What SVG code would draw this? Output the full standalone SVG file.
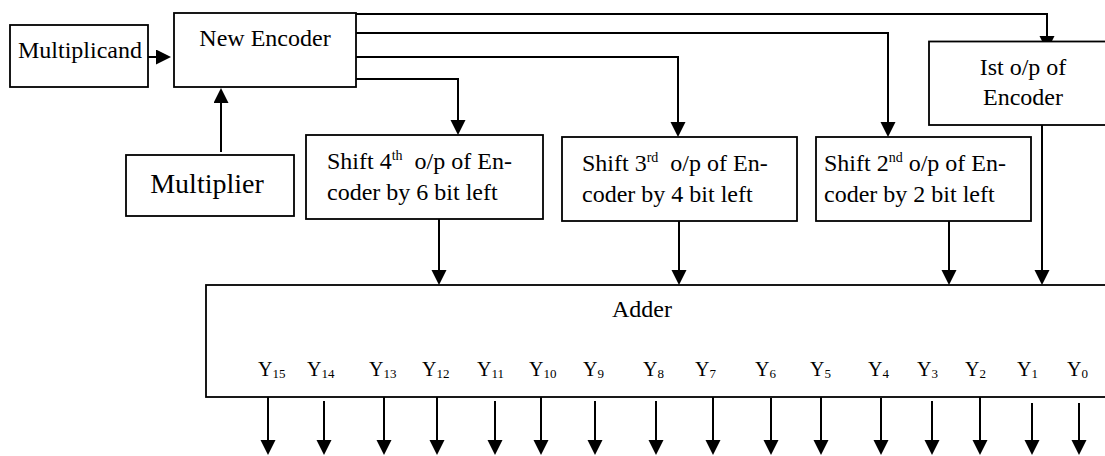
<svg xmlns="http://www.w3.org/2000/svg" width="1105" height="456" viewBox="0 0 1105 456" font-family="'Liberation Serif', 'Times New Roman', Times, 'DejaVu Serif', serif">
  <style>
    .box { fill: #ffffff; stroke: #000000; stroke-width: 1.8; }
    .arrow { fill: none; stroke: #000000; stroke-width: 2; marker-end: url(#head); }
    text { font-family: 'Liberation Serif', 'Times New Roman', Times, 'DejaVu Serif', serif; fill: #000000; }
    .lbl { font-size: 24px; }
    .big { font-size: 28px; }
    .sup { font-size: 14px; }
    .y { font-size: 20px; }
    .sub { font-size: 13px; }
  </style>
  <defs>
    <marker id="head" markerUnits="userSpaceOnUse" markerWidth="16" markerHeight="16" refX="13" refY="7.5" orient="auto">
      <path d="M0,0 L15,7.5 L0,15 z" fill="#000000"/>
    </marker>
  </defs>

  <rect width="1105" height="456" fill="#ffffff"/>

  <!-- connectors -->
  <g id="connectors">
    <path class="arrow" d="M148,57 L169,57"/>
    <path class="arrow" d="M221,152 L221,90"/>
    <path class="arrow" d="M356,14 L1047,14 L1047,49"/>
    <path class="arrow" d="M356,33 L888,33 L888,135"/>
    <path class="arrow" d="M356,57 L678,57 L678,135"/>
    <path class="arrow" d="M356,79 L458,79 L458,133"/>
    <path class="arrow" d="M439,219 L439,283"/>
    <path class="arrow" d="M679,221 L679,283"/>
    <path class="arrow" d="M949,221 L949,283"/>
    <path class="arrow" d="M1042,125 L1042,283"/>
    <!-- adder outputs Y15 .. Y0 -->
    <path class="arrow" d="M268,397 L268,453"/>
    <path class="arrow" d="M324,401 L324,453"/>
    <path class="arrow" d="M384,397 L384,453"/>
    <path class="arrow" d="M437,397 L437,453"/>
    <path class="arrow" d="M495,401 L495,453"/>
    <path class="arrow" d="M541,397 L541,453"/>
    <path class="arrow" d="M595,401 L595,453"/>
    <path class="arrow" d="M656,401 L656,453"/>
    <path class="arrow" d="M713,397 L713,453"/>
    <path class="arrow" d="M771,398 L771,453"/>
    <path class="arrow" d="M821,397 L821,453"/>
    <path class="arrow" d="M881,398 L881,453"/>
    <path class="arrow" d="M932,401 L932,453"/>
    <path class="arrow" d="M980,397 L980,453"/>
    <path class="arrow" d="M1032,403 L1032,453"/>
    <path class="arrow" d="M1079,403 L1079,453"/>
  </g>

  <g id="multiplicand">
    <rect class="box" x="10" y="25" width="138" height="62"/>
    <text class="lbl" x="80" y="58" text-anchor="middle">Multiplicand</text>
  </g>

  <g id="new-encoder">
    <rect class="box" x="174" y="13" width="182" height="74"/>
    <text class="lbl" x="265" y="46" text-anchor="middle">New Encoder</text>
  </g>

  <g id="multiplier">
    <rect class="box" x="126" y="155" width="168" height="61"/>
    <text class="big" x="207" y="193" text-anchor="middle">Multiplier</text>
  </g>

  <g id="shift-4th">
    <rect class="box" x="306" y="135" width="237" height="84"/>
    <text class="lbl" x="327" y="169">Shift 4<tspan class="sup" dy="-9">th</tspan><tspan dy="9" dx="6"> o/p of En-</tspan></text>
    <text class="lbl" x="327" y="200">coder by 6 bit left</text>
  </g>

  <g id="shift-3rd">
    <rect class="box" x="562" y="137" width="235" height="84"/>
    <text class="lbl" x="582" y="171">Shift 3<tspan class="sup" dy="-9">rd</tspan><tspan dy="9" dx="6"> o/p of En-</tspan></text>
    <text class="lbl" x="582" y="202">coder by 4 bit left</text>
  </g>

  <g id="shift-2nd">
    <rect class="box" x="816" y="137" width="215" height="84"/>
    <text class="lbl" x="824" y="171">Shift 2<tspan class="sup" dy="-9">nd</tspan><tspan dy="9"> o/p of En-</tspan></text>
    <text class="lbl" x="824" y="202">coder by 2 bit left</text>
  </g>

  <g id="first-output">
    <rect class="box" x="929" y="41.5" width="190" height="83.5"/>
    <text class="lbl" x="1023" y="75" text-anchor="middle">Ist o/p of</text>
    <text class="lbl" x="1023" y="105" text-anchor="middle">Encoder</text>
  </g>

  <g id="adder">
    <rect class="box" x="206" y="285" width="920" height="112"/>
    <text class="lbl" x="642" y="317" text-anchor="middle">Adder</text>
    <g class="y">
      <text x="258" y="376">Y<tspan class="sub" dy="2">15</tspan></text>
      <text x="307" y="376">Y<tspan class="sub" dy="2">14</tspan></text>
      <text x="369" y="376">Y<tspan class="sub" dy="2">13</tspan></text>
      <text x="422" y="376">Y<tspan class="sub" dy="2">12</tspan></text>
      <text x="477" y="376">Y<tspan class="sub" dy="2">11</tspan></text>
      <text x="529" y="376">Y<tspan class="sub" dy="2">10</tspan></text>
      <text x="583" y="376">Y<tspan class="sub" dy="2">9</tspan></text>
      <text x="643" y="376">Y<tspan class="sub" dy="2">8</tspan></text>
      <text x="695" y="376">Y<tspan class="sub" dy="2">7</tspan></text>
      <text x="755" y="376">Y<tspan class="sub" dy="2">6</tspan></text>
      <text x="810" y="376">Y<tspan class="sub" dy="2">5</tspan></text>
      <text x="868" y="376">Y<tspan class="sub" dy="2">4</tspan></text>
      <text x="917" y="376">Y<tspan class="sub" dy="2">3</tspan></text>
      <text x="965" y="376">Y<tspan class="sub" dy="2">2</tspan></text>
      <text x="1017" y="376">Y<tspan class="sub" dy="2">1</tspan></text>
      <text x="1067" y="376">Y<tspan class="sub" dy="2">0</tspan></text>
    </g>
  </g>
</svg>
